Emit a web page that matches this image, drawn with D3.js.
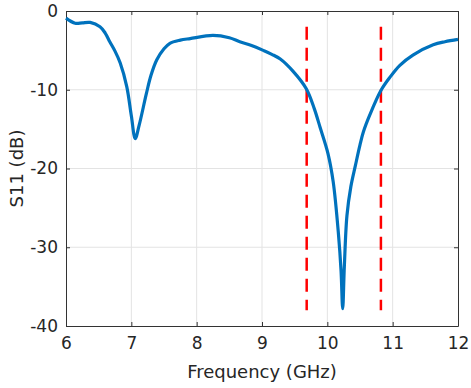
<!DOCTYPE html>
<html>
<head>
<meta charset="utf-8">
<script src="https://cdn.jsdelivr.net/npm/d3@7"></script>
<style>
  body { margin: 0; background: #fff; }
  text { font-family: "DejaVu Sans", "Liberation Sans", Arial, sans-serif; fill: #262626; }
</style>
</head>
<body>
<div id="chart"></div>
<script>
// data
const freq = [6.00, 6.14, 6.25, 6.37, 6.52, 6.60, 6.67, 6.75, 6.83, 6.93, 7.00, 7.06, 7.12, 7.23, 7.30, 7.39, 7.50, 7.59, 7.75, 7.90, 8.25, 8.50, 8.66, 8.85, 9.02, 9.15, 9.28, 9.48, 9.68, 9.80, 9.89, 10.01, 10.09, 10.17, 10.21, 10.235, 10.26, 10.30, 10.36, 10.43, 10.50, 10.55, 10.65, 10.82, 10.96, 11.11, 11.31, 11.62, 11.80, 12.00];
const s11 = [-0.9, -1.55, -1.5, -1.45, -2.0, -2.8, -3.9, -5.1, -6.6, -9.6, -13.3, -16.2, -14.5, -10.5, -8.2, -6.2, -4.8, -4.1, -3.7, -3.5, -3.1, -3.4, -3.9, -4.4, -5.0, -5.5, -6.1, -7.7, -9.9, -12.4, -14.8, -18.1, -21.7, -28.3, -33.0, -37.8, -32.5, -26.0, -22.3, -19.6, -17.0, -15.4, -13.2, -10.1, -8.4, -6.9, -5.6, -4.3, -3.9, -3.6];
const markerFreq = [9.684, 10.82];
const markerRange = [-2, -38];
const xTicks = [6, 7, 8, 9, 10, 11, 12];
const yTicks = [-40, -30, -20, -10, 0];

const margin = { top: 11, right: 13, bottom: 62, left: 66 };
const width = 471, height = 388;
const w = width - margin.left - margin.right;
const h = height - margin.top - margin.bottom;

const svg = d3.select("#chart").append("svg")
    .attr("width", width)
    .attr("height", height);

const g = svg.append("g")
    .attr("transform", "translate(" + margin.left + "," + margin.top + ")");

const x = d3.scaleLinear().domain([6, 12]).range([0, w]);
const y = d3.scaleLinear().domain([-40, 0]).range([h, 0]);
const fmt = d => String(d);

// grid
g.append("g").selectAll("line")
    .data(xTicks.slice(1, -1))
    .join("line")
    .attr("x1", d => x(d)).attr("x2", d => x(d))
    .attr("y1", 0).attr("y2", h)
    .attr("stroke", "#e3e3e3");
g.append("g").selectAll("line")
    .data(yTicks.slice(1, -1))
    .join("line")
    .attr("x1", 0).attr("x2", w)
    .attr("y1", d => y(d)).attr("y2", d => y(d))
    .attr("stroke", "#e3e3e3");

// axes (ticks pointing inward, box all round)
function styleAxis(sel) {
    sel.selectAll(".domain").attr("stroke", "#333");
    sel.selectAll(".tick line").attr("stroke", "#333");
    sel.selectAll("text").style("font-size", "17px").attr("fill", "#262626");
}
g.append("g")
    .attr("transform", "translate(0," + h + ")")
    .call(d3.axisBottom(x).tickValues(xTicks).tickFormat(fmt).tickSizeInner(-4).tickSizeOuter(0).tickPadding(11))
    .call(styleAxis);
g.append("g")
    .call(d3.axisLeft(y).tickValues(yTicks).tickFormat(fmt).tickSizeInner(-4).tickSizeOuter(0).tickPadding(8))
    .call(styleAxis);
g.append("g")
    .call(d3.axisTop(x).tickValues(xTicks).tickSizeInner(-4).tickSizeOuter(0).tickFormat(""))
    .call(styleAxis);
g.append("g")
    .attr("transform", "translate(" + w + ",0)")
    .call(d3.axisRight(y).tickValues(yTicks).tickSizeInner(-4).tickSizeOuter(0).tickFormat(""))
    .call(styleAxis);

// marker lines
g.append("g").selectAll("line")
    .data(markerFreq)
    .join("line")
    .attr("x1", d => x(d)).attr("x2", d => x(d))
    .attr("y1", y(markerRange[0])).attr("y2", y(markerRange[1]))
    .attr("stroke", "#ff0000")
    .attr("stroke-width", 2.5)
    .attr("stroke-dasharray", "13,8");

// S11 curve
const pts = freq.map((f, i) => [f, s11[i]]);
g.append("path")
    .datum(pts)
    .attr("fill", "none")
    .attr("stroke", "#0072bd")
    .attr("stroke-width", 3.2)
    .attr("stroke-linejoin", "round")
    .attr("d", d3.line().x(d => x(d[0])).y(d => y(d[1])).curve(d3.curveCatmullRom.alpha(0.5)));

// labels
svg.append("text")
    .attr("x", margin.left + w / 2)
    .attr("y", 378)
    .attr("text-anchor", "middle")
    .style("font-size", "18px")
    .text("Frequency (GHz)");
svg.append("text")
    .attr("transform", "translate(23," + (margin.top + h / 2) + ") rotate(-90)")
    .attr("text-anchor", "middle")
    .style("font-size", "18px")
    .text("S11 (dB)");
</script>
</body>
</html>
